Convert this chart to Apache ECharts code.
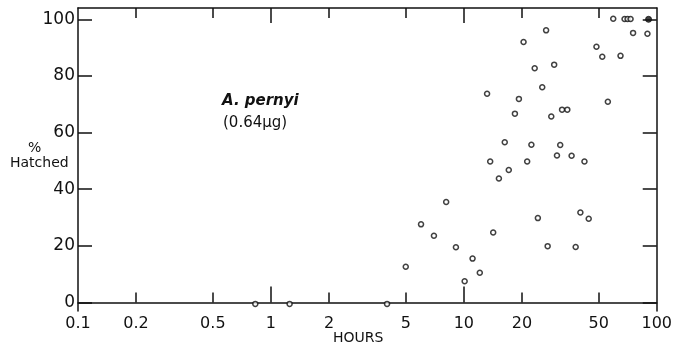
<!DOCTYPE html>
<html>
<head>
<meta charset="utf-8">
<script src="https://cdn.jsdelivr.net/npm/echarts@6/dist/echarts.min.js"></script>
<style>html,body{margin:0;padding:0;background:#fff}#c{width:675px;height:349px}</style>
</head>
<body>
<div id="c"></div>
<script>
// Data
const hours = [0.83,1.25,4.0,5.0,6.0,7.0,8.1,9.1,10.1,11.1,12.1,13.2,13.7,14.2,15.2,16.3,17.1,18.4,19.3,20.4,21.3,22.4,23.3,24.2,25.5,26.7,27.2,28.4,29.4,30.4,31.6,32.3,34.4,36.2,38.0,40.2,42.2,44.4,48.7,52.2,55.8,59.5,64.9,68.1,70.6,73.2,75.4,89.5];
const hatched = [-0.5,-0.5,-0.5,12.6,27.6,23.6,35.5,19.5,7.5,15.5,10.5,73.7,49.8,24.7,43.8,56.6,46.8,66.7,71.9,92.0,49.8,55.7,82.7,29.8,76.0,96.1,19.9,65.7,84.0,51.9,55.6,68.1,68.1,51.8,19.6,31.8,49.8,29.6,90.3,86.8,70.9,100.2,87.1,100.1,100.1,100.1,95.2,94.9];
const hoursFilled = [90.7];
const hatchedFilled = [100];
const xLabelValues = [0.1,0.2,0.5,1,2,5,10,20,50,100];
const xShortTicks = [0.2,0.5,2,5,20,50];
const xLongTicks = [1,10];
const yTickValues = [0,20,40,60,80,100];

const FONT = 'DejaVu Sans';
const INK = '#111';

const pts = hours.map((h,i)=>[h, hatched[i]]);
const ptsFilled = hoursFilled.map((h,i)=>[h, hatchedFilled[i]]);

function xAx(pos, ticks, len, showLabel, showLine){
  return {
    type:'log', logBase:10, min:0.1, max:100, position:pos,
    axisLine:{show:showLine, lineStyle:{color:INK, width:1.5}},
    axisTick:{show:true, inside:true, length:len, customValues:ticks, lineStyle:{color:INK, width:1.5}},
    axisLabel:{show:showLabel, customValues:xLabelValues, margin:5, color:INK, fontFamily:FONT, fontSize:16,
      formatter:v=>String(v)},
    splitLine:{show:false}, minorTick:{show:false}, minorSplitLine:{show:false}
  };
}
function yAx(pos, showLabel){
  return {
    type:'value', min:-3, max:104, position:pos,
    axisLine:{show:true, lineStyle:{color:INK, width:1.5}},
    axisTick:{show:true, inside:true, length:14, customValues:yTickValues, lineStyle:{color:INK, width:1.5}},
    axisLabel:{show:showLabel, customValues:yTickValues, margin:3, color:INK, fontFamily:FONT, fontSize:17},
    splitLine:{show:false}
  };
}

const chart = echarts.init(document.getElementById('c'), null, {renderer:'canvas'});
chart.setOption({
  animation:false,
  backgroundColor:'#fff',
  grid:{left:78, right:18, top:8, bottom:38, containLabel:false},
  xAxis:[
    xAx('bottom', xShortTicks, 10, true, true),
    xAx('bottom', xLongTicks, 16, false, false),
    xAx('top', xShortTicks, 10, false, true),
    xAx('top', xLongTicks, 15, false, false)
  ],
  yAxis:[ yAx('left', true), yAx('right', false) ],
  series:[
    {type:'scatter', xAxisIndex:0, yAxisIndex:0, data:pts, symbol:'circle', symbolSize:5,
     itemStyle:{color:'#fff', borderColor:INK, borderWidth:1.5}},
    {type:'scatter', xAxisIndex:0, yAxisIndex:0, data:ptsFilled, symbol:'circle', symbolSize:6,
     itemStyle:{color:INK, borderColor:INK, borderWidth:1}}
  ],
  graphic:[
    {type:'text', left:28, top:141, style:{text:'%', fill:INK, font:'14px "DejaVu Sans"'}},
    {type:'text', left:10, top:156, style:{text:'Hatched', fill:INK, font:'14px "DejaVu Sans"'}},
    {type:'text', left:333, top:331, style:{text:'HOURS', fill:INK, font:'14px "DejaVu Sans"'}},
    {type:'text', left:222, top:94, style:{text:'A. pernyi', fill:INK, font:'italic bold 15px "DejaVu Sans"'}},
    {type:'text', left:223, top:116, style:{text:'(0.64\u00b5g)', fill:INK, font:'15px "DejaVu Sans"'}}
  ]
});
</script>
</body>
</html>
